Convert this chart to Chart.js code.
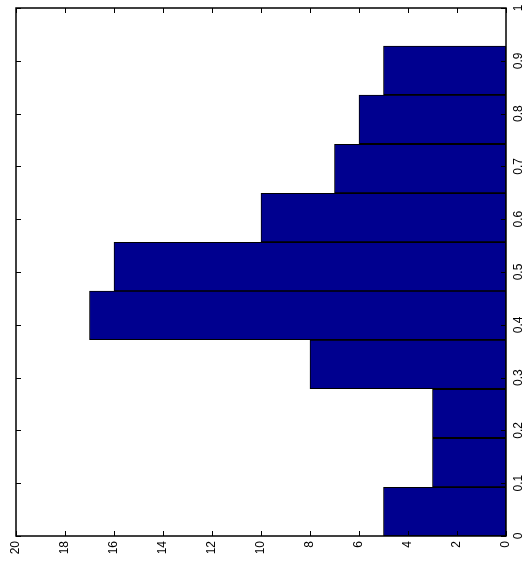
<!DOCTYPE html>
<html>
<head>
<meta charset="utf-8">
<script src="https://cdn.jsdelivr.net/npm/chart.js@4"></script>
<style>
  html, body { margin: 0; padding: 0; background: #fff; }
  #wrap { width: 525px; height: 564px; }
</style>
</head>
<body>
<div id="wrap"><canvas id="histChart"></canvas></div>
<script>
// ─────────────── DATA ───────────────
const binCenters = [0.046, 0.139, 0.232, 0.325, 0.418, 0.510, 0.603, 0.696, 0.789, 0.882];
const counts = [5, 3, 3, 8, 17, 16, 10, 7, 6, 5];
const countTicks = [0, 2, 4, 6, 8, 10, 12, 14, 16, 18, 20];
const valueTicks = [0, 0.1, 0.2, 0.3, 0.4, 0.5, 0.6, 0.7, 0.8, 0.9, 1];

const fontFamily = 'Liberation Sans, Arial, sans-serif';
const fontSize = 12;

// Frame, inward tick marks and rotated labels (matlab style box)
const boxTicks = {
    id: 'boxTicks',
    afterDraw(chart) {
        const { ctx, chartArea: a, scales } = chart;
        const len = 5;
        ctx.save();
        ctx.strokeStyle = '#000';
        ctx.lineWidth = 1;
        ctx.beginPath();
        countTicks.forEach(v => {
            const x = Math.round(scales.x.getPixelForValue(v)) + 0.5;
            ctx.moveTo(x, a.bottom); ctx.lineTo(x, a.bottom - len);
            ctx.moveTo(x, a.top); ctx.lineTo(x, a.top + len);
        });
        valueTicks.forEach(v => {
            const y = Math.round(scales.y.getPixelForValue(v)) + 0.5;
            ctx.moveTo(a.left, y); ctx.lineTo(a.left + len, y);
            ctx.moveTo(a.right, y); ctx.lineTo(a.right - len, y);
        });
        ctx.stroke();
        ctx.lineWidth = 1.5;
        ctx.strokeRect(a.left, a.top, a.right - a.left, a.bottom - a.top);

        // labels, read bottom to top
        ctx.fillStyle = '#000';
        ctx.font = fontSize + 'px ' + fontFamily;
        ctx.textBaseline = 'middle';
        countTicks.forEach(v => {
            const x = scales.x.getPixelForValue(v);
            ctx.save();
            ctx.translate(x, a.bottom + 5);
            ctx.rotate(-Math.PI / 2);
            ctx.textAlign = 'right';
            ctx.fillText(String(v), 0, 0);
            ctx.restore();
        });
        valueTicks.forEach(v => {
            const y = scales.y.getPixelForValue(v);
            ctx.save();
            ctx.translate(a.right + 13, y);
            ctx.rotate(-Math.PI / 2);
            ctx.textAlign = 'center';
            ctx.fillText(String(v), 0, 0);
            ctx.restore();
        });
        ctx.restore();
    }
};

new Chart(document.getElementById('histChart'), {
    type: 'bar',
    data: {
        datasets: [{
            data: binCenters.map((c, i) => ({ x: counts[i], y: c })),
            backgroundColor: '#00008f',
            borderColor: '#000',
            borderWidth: 1,
            borderSkipped: false,
            barPercentage: 1,
            categoryPercentage: 1
        }]
    },
    options: {
        indexAxis: 'y',
        responsive: true,
        maintainAspectRatio: false,
        animation: false,
        layout: { padding: { top: 8, left: 16, right: 19, bottom: 28 } },
        plugins: { legend: { display: false }, tooltip: { enabled: false } },
        scales: {
            x: {
                type: 'linear',
                display: false,
                reverse: true,
                min: 0, max: 20
            },
            y: {
                type: 'linear',
                display: false,
                offset: false,
                min: 0, max: 1
            }
        }
    },
    plugins: [boxTicks]
});
</script>
</body>
</html>
